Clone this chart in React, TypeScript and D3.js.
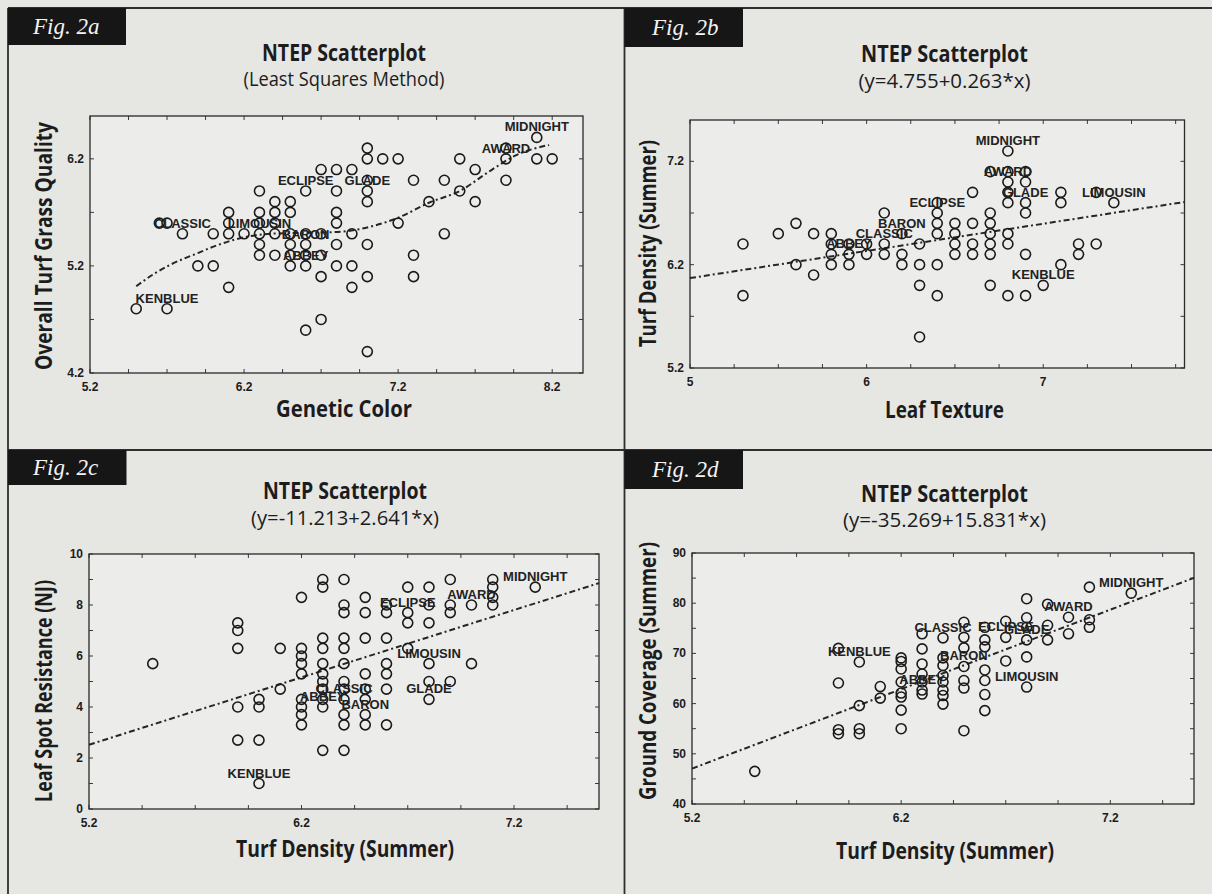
import React from "react";
import * as d3 from "d3";

// ---------------- Fig. 2a : Genetic Color vs Overall Turf Grass Quality ----------------
const geneticColorA = [
  5.5, 5.7, 5.65, 5.7, 5.8, 5.9, 6.0, 6.0, 6.1, 6.1, 6.1, 6.1, 6.2,
  6.3, 6.3, 6.3, 6.3, 6.3, 6.3,
  6.4, 6.4, 6.4, 6.4, 6.4,
  6.5, 6.5, 6.5, 6.5, 6.5, 6.5,
  6.6, 6.6, 6.6, 6.6, 6.6, 6.6,
  6.7, 6.7, 6.7, 6.7, 6.7,
  6.8, 6.8, 6.8, 6.8, 6.8, 6.8,
  6.9, 6.9, 6.9, 6.9,
  7.0, 7.0, 7.0, 7.0, 7.0, 7.0, 7.0, 7.0,
  7.1, 7.2, 7.2, 7.3, 7.3, 7.3, 7.4, 7.5, 7.5, 7.6, 7.6, 7.7, 7.7, 7.9, 7.9, 7.9, 8.1, 8.1, 8.2,
];
const turfQualityA = [
  4.8, 4.8, 5.6, 5.6, 5.5, 5.2, 5.2, 5.5, 5.7, 5.6, 5.5, 5.0, 5.5,
  5.9, 5.7, 5.6, 5.5, 5.4, 5.3,
  5.8, 5.7, 5.6, 5.5, 5.3,
  5.8, 5.7, 5.5, 5.4, 5.3, 5.2,
  5.9, 5.5, 5.4, 5.3, 5.2, 4.6,
  6.1, 5.5, 5.3, 5.1, 4.7,
  6.1, 5.9, 5.7, 5.6, 5.4, 5.2,
  6.1, 5.5, 5.2, 5.0,
  6.3, 6.2, 6.0, 5.9, 5.8, 5.4, 5.1, 4.4,
  6.2, 6.2, 5.6, 6.0, 5.3, 5.1, 5.8, 6.0, 5.5, 6.2, 5.9, 6.1, 5.8, 6.3, 6.2, 6.0, 6.4, 6.2, 6.2,
];
const trendColorA = [5.5, 5.62, 5.72, 5.9, 6.02, 6.15, 6.37, 6.62, 6.83, 7.03, 7.2, 7.4, 7.6, 7.81, 7.96, 8.18];
const trendQualityA = [5.01, 5.13, 5.21, 5.32, 5.39, 5.45, 5.5, 5.51, 5.52, 5.57, 5.65, 5.79, 5.9, 6.1, 6.23, 6.33];
const labelNamesA = ["KENBLUE", "CLASSIC", "LIMOUSIN", "BARON", "ABBEY", "ECLIPSE", "GLADE", "AWARD", "MIDNIGHT"];
const labelColorA = [5.7, 5.8, 6.3, 6.6, 6.6, 6.6, 7.0, 7.9, 8.1];
const labelQualityA = [4.8, 5.5, 5.5, 5.4, 5.2, 5.9, 5.9, 6.2, 6.4];
const xTicksA = [5.2, 6.2, 7.2, 8.2];
const yTicksA = [4.2, 5.2, 6.2];

// ---------------- Fig. 2b : Leaf Texture vs Turf Density (Summer) ----------------
const leafTextureB = [
  5.3, 5.3, 5.5, 5.6, 5.6, 5.7, 5.7,
  5.8, 5.8, 5.8, 5.8,
  5.9, 5.9, 5.9,
  6.0, 6.0,
  6.1, 6.1, 6.1,
  6.2, 6.2, 6.2,
  6.3, 6.3, 6.3, 6.3,
  6.4, 6.4, 6.4, 6.4, 6.4, 6.4,
  6.5, 6.5, 6.5, 6.5,
  6.6, 6.6, 6.6, 6.6,
  6.7, 6.7, 6.7, 6.7, 6.7, 6.7, 6.7,
  6.8, 6.8, 6.8, 6.8, 6.8, 6.8, 6.8, 6.8,
  6.9, 6.9, 6.9, 6.9, 6.9, 6.9,
  7.0,
  7.1, 7.1, 7.1,
  7.2, 7.2,
  7.3, 7.3,
  7.4,
];
const turfDensityB = [
  6.4, 5.9, 6.5, 6.6, 6.2, 6.5, 6.1,
  6.5, 6.4, 6.3, 6.2,
  6.4, 6.3, 6.2,
  6.4, 6.3,
  6.7, 6.4, 6.3,
  6.5, 6.3, 6.2,
  6.4, 6.2, 6.0, 5.5,
  6.8, 6.7, 6.6, 6.5, 6.2, 5.9,
  6.6, 6.5, 6.4, 6.3,
  6.9, 6.6, 6.4, 6.3,
  7.1, 6.7, 6.6, 6.5, 6.4, 6.3, 6.0,
  7.3, 7.1, 7.0, 6.9, 6.8, 6.5, 6.4, 5.9,
  7.1, 7.0, 6.8, 6.7, 6.3, 5.9,
  6.0,
  6.9, 6.8, 6.2,
  6.4, 6.3,
  6.9, 6.4,
  6.8,
];
const fitB = { intercept: 4.755, slope: 0.263 };
const labelNamesB = ["MIDNIGHT", "AWARD", "GLADE", "LIMOUSIN", "ECLIPSE", "BARON", "CLASSIC", "ABBEY", "KENBLUE"];
const labelTextureB = [6.8, 6.8, 6.9, 7.4, 6.4, 6.2, 6.1, 5.9, 7.0];
const labelDensityB = [7.3, 7.0, 6.8, 6.8, 6.7, 6.5, 6.4, 6.3, 6.0];
const xTicksB = [5, 6, 7];
const yTicksB = [5.2, 6.2, 7.2];

// ---------------- Fig. 2c : Turf Density (Summer) vs Leaf Spot Resistance (NJ) ----------------
const turfDensityC = [
  5.5,
  5.9, 5.9, 5.9, 5.9, 5.9,
  6.0, 6.0, 6.0, 6.0,
  6.1, 6.1,
  6.2, 6.2, 6.2, 6.2, 6.2, 6.2, 6.2, 6.2, 6.2,
  6.3, 6.3, 6.3, 6.3, 6.3, 6.3, 6.3, 6.3, 6.3, 6.3, 6.3,
  6.4, 6.4, 6.4, 6.4, 6.4, 6.4, 6.4, 6.4, 6.4, 6.4, 6.4, 6.4,
  6.5, 6.5, 6.5, 6.5, 6.5, 6.5, 6.5, 6.5,
  6.6, 6.6, 6.6, 6.6, 6.6, 6.6, 6.6,
  6.7, 6.7, 6.7, 6.7,
  6.8, 6.8, 6.8, 6.8, 6.8, 6.8,
  6.9, 6.9, 6.9, 6.9,
  7.0, 7.0,
  7.1, 7.1, 7.1, 7.1,
  7.3,
];
const leafSpotC = [
  5.7,
  7.3, 7.0, 6.3, 4.0, 2.7,
  4.3, 4.0, 2.7, 1.0,
  6.3, 4.7,
  8.3, 6.3, 6.0, 5.7, 5.3, 4.3, 4.0, 3.7, 3.3,
  9.0, 8.7, 6.7, 6.3, 5.7, 5.3, 5.0, 4.7, 4.3, 4.0, 2.3,
  9.0, 8.0, 7.7, 6.7, 6.3, 5.7, 5.0, 4.7, 4.3, 3.7, 3.3, 2.3,
  8.3, 7.7, 6.7, 5.3, 4.7, 4.3, 3.7, 3.3,
  8.0, 7.7, 6.7, 5.7, 5.3, 4.7, 3.3,
  8.7, 7.7, 7.3, 6.3,
  8.7, 8.0, 7.3, 5.7, 5.0, 4.3,
  9.0, 8.0, 7.7, 5.0,
  8.0, 5.7,
  9.0, 8.7, 8.3, 8.0,
  8.7,
];
const fitC = { intercept: -11.213, slope: 2.641 };
const labelNamesC = ["MIDNIGHT", "AWARD", "ECLIPSE", "LIMOUSIN", "GLADE", "CLASSIC", "ABBEY", "BARON", "KENBLUE"];
const labelDensityC = [7.3, 7.0, 6.7, 6.8, 6.8, 6.4, 6.3, 6.5, 6.0];
const labelSpotC = [8.7, 8.0, 7.7, 5.7, 4.3, 4.3, 4.0, 3.7, 1.0];
const xTicksC = [5.2, 6.2, 7.2];
const yTicksC = [0, 2, 4, 6, 8, 10];

// ---------------- Fig. 2d : Turf Density (Summer) vs Ground Coverage (Summer) ----------------
const turfDensityD = [
  5.5,
  5.9, 5.9, 5.9, 5.9,
  6.0, 6.0, 6.0, 6.0,
  6.1, 6.1,
  6.2, 6.2, 6.2, 6.2, 6.2, 6.2, 6.2, 6.2,
  6.3, 6.3, 6.3, 6.3, 6.3, 6.3, 6.3,
  6.4, 6.4, 6.4, 6.4, 6.4, 6.4, 6.4, 6.4,
  6.5, 6.5, 6.5, 6.5, 6.5, 6.5, 6.5,
  6.6, 6.6, 6.6, 6.6, 6.6, 6.6, 6.6,
  6.7, 6.7, 6.7,
  6.8, 6.8, 6.8, 6.8, 6.8, 6.8,
  6.9, 6.9, 6.9,
  7.0, 7.0,
  7.1, 7.1, 7.1,
  7.3,
];
const groundCoverD = [
  46.5,
  71.0, 64.1, 54.8, 54.0,
  68.3, 59.6, 55.0, 54.0,
  63.4, 61.1,
  69.1, 68.4, 66.9, 64.3, 62.1, 61.3, 58.7, 55.0,
  73.9, 70.9, 67.9, 65.9, 64.3, 62.7, 61.9,
  73.1, 69.1, 67.6, 65.6, 64.3, 62.7, 61.6, 59.9,
  76.2, 73.2, 71.1, 67.4, 64.6, 63.1, 54.6,
  75.2, 72.7, 71.3, 66.7, 64.6, 61.8, 58.6,
  76.4, 73.2, 68.5,
  80.9, 77.1, 75.2, 72.7, 69.3, 63.3,
  79.8, 75.6, 72.7,
  77.2, 73.9,
  83.2, 76.7, 75.2,
  82.0,
];
const fitD = { intercept: -35.269, slope: 15.831 };
const labelNamesD = ["MIDNIGHT", "AWARD", "CLASSIC", "ECLIPSE", "GLADE", "BARON", "ABBEY", "LIMOUSIN", "KENBLUE"];
const labelDensityD = [7.3, 7.0, 6.4, 6.7, 6.8, 6.5, 6.3, 6.8, 6.0];
const labelCoverD = [82.0, 77.2, 73.1, 73.2, 72.7, 67.4, 62.7, 63.3, 68.3];
const xTicksD = [5.2, 6.2, 7.2];
const yTicksD = [40, 50, 60, 70, 80, 90];

const fitText = (f: { intercept: number; slope: number }) => `(y=${f.intercept}+${f.slope}*x)`;

const HEAD = '"Open Sans", "DejaVu Sans", sans-serif';
const MARK = '"Liberation Sans", Arial, sans-serif';
const FIG = '"Liberation Serif", "DejaVu Serif", serif';
const INK = "#1c1c1c";

const panels = [
  {
    fig: "Fig. 2a", box: { x: 8, y: 8, w: 118, h: 37 }, figX: 33, figBase: 34,
    title: "NTEP Scatterplot", subtitle: "(Least Squares Method)",
    titleX: 344, titleY: 52, titleLen: 164, subY: 78, subLen: 201,
    plot: { l: 90, r: 583, t: 116, b: 373 },
    xDomain: [5.2, 8.4], yDomain: [4.2, 6.6], xTicks: xTicksA, yTicks: yTicksA, xMinor: 0.25, yMinor: 0.5,
    xTitle: "Genetic Color", xTitleX: 344, xTitleY: 407, xTitleLen: 136,
    yTitle: "Overall Turf Grass Quality", yTitleX: 42, yTitleY: 246, yTitleLen: 248,
    xs: geneticColorA, ys: turfQualityA,
    names: labelNamesA, lx: labelColorA, ly: labelQualityA,
    trendX: trendColorA, trendY: trendQualityA, fit: null,
  },
  {
    fig: "Fig. 2b", box: { x: 624.5, y: 8, w: 118.5, h: 39 }, figX: 652, figBase: 35,
    title: "NTEP Scatterplot", subtitle: fitText(fitB),
    titleX: 944.5, titleY: 53, titleLen: 167, subY: 80, subLen: 172,
    plot: { l: 690, r: 1184.5, t: 120, b: 368 },
    xDomain: [5, 7.8], yDomain: [5.2, 7.6], xTicks: xTicksB, yTicks: yTicksB, xMinor: 0.25, yMinor: 0.5,
    xTitle: "Leaf Texture", xTitleX: 944.5, xTitleY: 408, xTitleLen: 119,
    yTitle: "Turf Density (Summer)", yTitleX: 646.6, yTitleY: 243.5, yTitleLen: 207,
    xs: leafTextureB, ys: turfDensityB,
    names: labelNamesB, lx: labelTextureB, ly: labelDensityB,
    trendX: null, trendY: null, fit: fitB,
  },
  {
    fig: "Fig. 2c", box: { x: 8, y: 450, w: 118.5, h: 35 }, figX: 33, figBase: 475,
    title: "NTEP Scatterplot", subtitle: fitText(fitC),
    titleX: 345, titleY: 490, titleLen: 164, subY: 517, subLen: 188,
    plot: { l: 89, r: 599, t: 554, b: 809 },
    xDomain: [5.2, 7.6], yDomain: [0, 10], xTicks: xTicksC, yTicks: yTicksC, xMinor: 0.25, yMinor: 1,
    xTitle: "Turf Density (Summer)", xTitleX: 345, xTitleY: 847, xTitleLen: 218,
    yTitle: "Leaf Spot Resistance (NJ)", yTitleX: 42.5, yTitleY: 691, yTitleLen: 222,
    xs: turfDensityC, ys: leafSpotC,
    names: labelNamesC, lx: labelDensityC, ly: labelSpotC,
    trendX: null, trendY: null, fit: fitC,
  },
  {
    fig: "Fig. 2d", box: { x: 624.5, y: 450, w: 118.5, h: 39 }, figX: 652, figBase: 477,
    title: "NTEP Scatterplot", subtitle: fitText(fitD),
    titleX: 944.5, titleY: 493, titleLen: 167, subY: 519, subLen: 203,
    plot: { l: 692, r: 1194, t: 553, b: 804 },
    xDomain: [5.2, 7.6], yDomain: [40, 90], xTicks: xTicksD, yTicks: yTicksD, xMinor: 0.25, yMinor: 5,
    xTitle: "Turf Density (Summer)", xTitleX: 945, xTitleY: 849, xTitleLen: 218,
    yTitle: "Ground Coverage (Summer)", yTitleX: 646.6, yTitleY: 671, yTitleLen: 258,
    xs: turfDensityD, ys: groundCoverD,
    names: labelNamesD, lx: labelDensityD, ly: labelCoverD,
    trendX: null, trendY: null, fit: fitD,
  },
];

function Panel({ p }: { p: any }) {
  const { plot } = p;
  const x = d3.scaleLinear().domain(p.xDomain).range([plot.l, plot.r]);
  const y = d3.scaleLinear().domain(p.yDomain).range([plot.b, plot.t]);
  const minorX = d3.range(p.xDomain[0], p.xDomain[1] + 1e-9, p.xMinor);
  const minorY = d3.range(p.yDomain[0], p.yDomain[1] + 1e-9, p.yMinor);

  let trendD: string | null = null;
  if (p.trendX) {
    const pts: [number, number][] = p.trendX.map((v: number, i: number) => [v, p.trendY[i]]);
    trendD = d3.line<[number, number]>().x((d) => x(d[0])).y((d) => y(d[1])).curve(d3.curveMonotoneX)(pts);
  } else if (p.fit) {
    const pts: [number, number][] = p.xDomain.map((v: number) => [v, p.fit.intercept + p.fit.slope * v]);
    trendD = d3.line<[number, number]>().x((d) => x(d[0])).y((d) => y(d[1]))(pts);
  }

  const tk = 4;
  return (
    <g>
      {/* figure tag */}
      <rect x={p.box.x} y={p.box.y} width={p.box.w} height={p.box.h} fill="#161616" />
      <text x={p.figX} y={p.figBase} fill="#f4f4f4" fontFamily={FIG} fontStyle="italic" fontSize={23}>
        {p.fig}
      </text>

      {/* titles */}
      <text x={p.titleX} y={p.titleY} textAnchor="middle" dominantBaseline="central" fontFamily={HEAD}
        fontWeight={700} fontSize={23} fill={INK} textLength={p.titleLen} lengthAdjust="spacingAndGlyphs">
        {p.title}
      </text>
      <text x={p.titleX} y={p.subY} textAnchor="middle" dominantBaseline="central" fontFamily={HEAD}
        fontWeight={400} fontSize={20} fill={INK} textLength={p.subLen} lengthAdjust="spacingAndGlyphs">
        {p.subtitle}
      </text>

      {/* plot area */}
      <rect x={plot.l} y={plot.t} width={plot.r - plot.l} height={plot.b - plot.t} fill="#ececea" />
      {minorX.map((v: number, i: number) => (
        <g key={"mx" + i} stroke="#3a3a3a" strokeWidth={1}>
          <line x1={x(v)} x2={x(v)} y1={plot.b} y2={plot.b - tk} />
          <line x1={x(v)} x2={x(v)} y1={plot.t} y2={plot.t + tk} />
        </g>
      ))}
      {minorY.map((v: number, i: number) => (
        <g key={"my" + i} stroke="#3a3a3a" strokeWidth={1}>
          <line x1={plot.l} x2={plot.l + tk} y1={y(v)} y2={y(v)} />
          <line x1={plot.r} x2={plot.r - tk} y1={y(v)} y2={y(v)} />
        </g>
      ))}
      <rect x={plot.l} y={plot.t} width={plot.r - plot.l} height={plot.b - plot.t} fill="none"
        stroke="#2a2a2a" strokeWidth={1.3} />

      {/* tick labels */}
      {p.xTicks.map((v: number) => (
        <text key={"xt" + v} x={x(v)} y={plot.b + 14} textAnchor="middle" dominantBaseline="central"
          fontFamily={MARK} fontWeight={700} fontSize={12} fill={INK}>
          {String(v)}
        </text>
      ))}
      {p.yTicks.map((v: number) => (
        <text key={"yt" + v} x={plot.l - 6} y={y(v)} textAnchor="end" dominantBaseline="central"
          fontFamily={MARK} fontWeight={700} fontSize={12} fill={INK}>
          {String(v)}
        </text>
      ))}

      {/* trend */}
      {trendD && (
        <path d={trendD} fill="none" stroke="#262626" strokeWidth={2} strokeDasharray="6 3 2 3" />
      )}

      {/* points */}
      {p.xs.map((v: number, i: number) => (
        <circle key={"pt" + i} cx={x(v)} cy={y(p.ys[i])} r={5} fill="none" stroke="#1a1a1a" strokeWidth={1.6} />
      ))}

      {/* point labels */}
      {p.names.map((n: string, i: number) => (
        <text key={"lb" + i} x={x(p.lx[i])} y={y(p.ly[i]) - 10.5} textAnchor="middle" dominantBaseline="central"
          fontFamily={MARK} fontWeight={700} fontSize={13} fill="#222">
          {n}
        </text>
      ))}

      {/* axis titles */}
      <text x={p.xTitleX} y={p.xTitleY} textAnchor="middle" dominantBaseline="central" fontFamily={HEAD}
        fontWeight={700} fontSize={24} fill={INK} textLength={p.xTitleLen} lengthAdjust="spacingAndGlyphs">
        {p.xTitle}
      </text>
      <text transform={`translate(${p.yTitleX},${p.yTitleY}) rotate(-90)`} textAnchor="middle"
        dominantBaseline="central" fontFamily={HEAD} fontWeight={700} fontSize={24} fill={INK}
        textLength={p.yTitleLen} lengthAdjust="spacingAndGlyphs">
        {p.yTitle}
      </text>
    </g>
  );
}

export default function App() {
  return (
    <svg width={1212} height={894} viewBox="0 0 1212 894"
      style={{ position: "absolute", left: 0, top: 0, display: "block" }}>
      <rect x={0} y={0} width={1212} height={894} fill="#e6e6e3" />
      {/* panel frame lines */}
      <g stroke="#2e2e2e" strokeWidth={1.8}>
        <line x1={8} x2={1212} y1={8} y2={8} />
        <line x1={8} x2={1212} y1={450} y2={450} />
        <line x1={8} x2={8} y1={8} y2={894} />
        <line x1={624.5} x2={624.5} y1={8} y2={894} />
      </g>
      {panels.map((p, i) => (
        <Panel key={i} p={p} />
      ))}
    </svg>
  );
}
